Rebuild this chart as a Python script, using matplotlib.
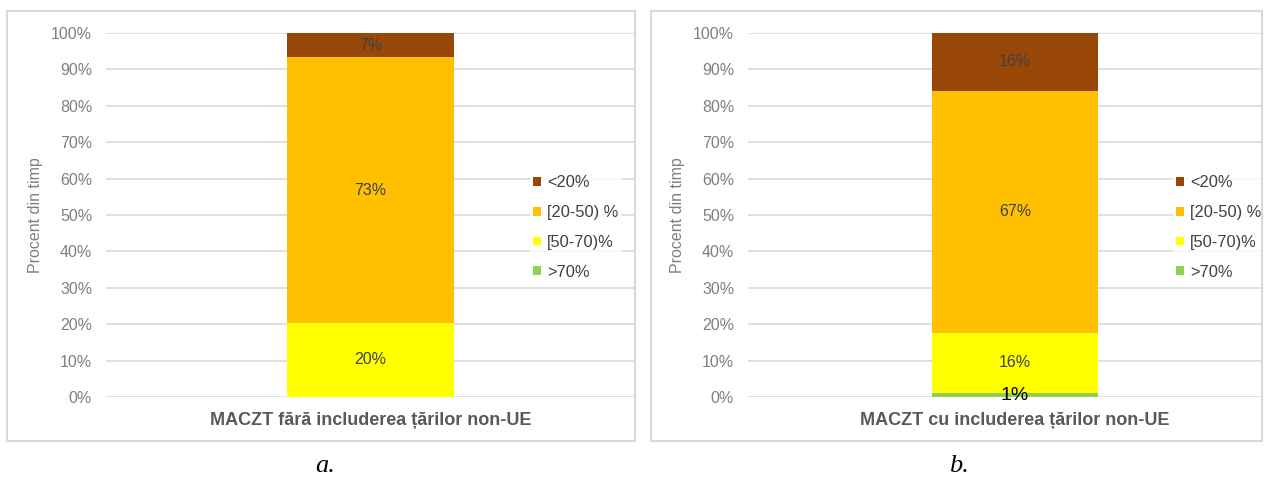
import matplotlib
matplotlib.use("Agg")
import matplotlib.pyplot as plt
from matplotlib.patches import Patch, Rectangle

plt.rcParams["font.family"] = ["Liberation Sans", "DejaVu Sans"]

# stacked shares (percent of time), bottom -> top
series = [">70%", "[50-70)%", "[20-50) %", "<20%"]
series_colors = ["#92D050", "#FFFF00", "#FFC000", "#994708"]
categories = ["MACZT fără includerea țărilor non-UE", "MACZT cu includerea țărilor non-UE"]
share_a = [0.0, 20.4, 72.9, 6.7]
share_b = [1.2, 16.4, 66.6, 15.8]
panel_letters = ["a.", "b."]
yticks = list(range(0, 101, 10))

W, H = 1268, 479
GRID = "#D9D9D9"
TICK_GREY = "#7F7F7F"
TEXT_DARK = "#404040"

# pixel layout of each panel: axes left/right, border, legend, x limits
panels = [
    dict(ax_left=106, ax_right=635, border=(7, 11, 635, 441),
         xlim=(-1.0, 1.0), legend_x=530, letter_x=325),
    dict(ax_left=748, ax_right=1262, border=(651, 11, 1262, 441),
         xlim=(-1.009, 0.934), legend_x=1173, letter_x=959),
]
AX_TOP, AX_BOTTOM = 33, 397
BAR_WIDTH = 0.628


def fx(px):
    return px / W


def fy(py):
    return 1 - py / H


def draw_panel(fig, layout, category, shares, letter):
    ax = fig.add_axes([fx(layout["ax_left"]), fy(AX_BOTTOM),
                       fx(layout["ax_right"] - layout["ax_left"]),
                       (AX_BOTTOM - AX_TOP) / H])
    bottom = 0.0
    for name, color, value in zip(series, series_colors, shares):
        ax.bar([0], [value], bottom=bottom, width=BAR_WIDTH, color=color,
               edgecolor="none", zorder=3, label=name)
        if value > 0:
            mid = bottom + value / 2
            if value < 5:
                ax.text(0, mid - 0.3, f"{value:.0f}%", ha="center", va="center",
                        fontsize=14, color="black", zorder=5)
            else:
                ax.text(0, mid, f"{value:.0f}%", ha="center", va="center",
                        fontsize=11.5, color=TEXT_DARK, zorder=5)
        bottom += value

    ax.set_xlim(*layout["xlim"])
    ax.set_ylim(0, 100)
    ax.set_yticks(yticks)
    ax.set_yticklabels([f"{t}%" for t in yticks])
    ax.set_xticks([0])
    ax.set_xticklabels([category], fontweight="bold", fontsize=13, color="#595959")
    ax.tick_params(axis="y", length=0, pad=10, labelsize=11.5, labelcolor=TICK_GREY)
    ax.tick_params(axis="x", length=0, pad=11)
    ax.grid(axis="y", color=GRID, linewidth=1.2, zorder=0)
    ax.set_axisbelow(True)
    for spine in ax.spines.values():
        spine.set_visible(False)
    ax.set_ylabel("Procent din timp", fontsize=11.5, color=TICK_GREY, labelpad=6)

    handles = [Patch(facecolor=c, edgecolor="none", label=s)
               for s, c in zip(series, series_colors)][::-1]
    leg = ax.legend(handles=handles, loc="upper left",
                    bbox_to_anchor=(fx(layout["legend_x"]), fy(172)),
                    bbox_transform=fig.transFigure, frameon=True,
                    fontsize=11.8, handlelength=0.45, handleheight=0.45,
                    handletextpad=0.4, labelspacing=0.9, borderpad=0.2,
                    borderaxespad=0)
    leg.get_frame().set_facecolor("white")
    leg.get_frame().set_edgecolor("none")
    for t in leg.get_texts():
        t.set_color(TEXT_DARK)

    x0, y0, x1, y1 = layout["border"]
    fig.patches.append(Rectangle((fx(x0), fy(y1)), fx(x1 - x0), (y1 - y0) / H,
                                 transform=fig.transFigure, fill=False,
                                 edgecolor=GRID, linewidth=1.5))
    fig.text(fx(layout["letter_x"]), fy(466), letter, ha="center", va="center",
             fontsize=19, fontstyle="italic", family="Liberation Serif")


fig = plt.figure(figsize=(W / 100, H / 100), dpi=100)
for layout, category, shares, letter in zip(panels, categories, [share_a, share_b], panel_letters):
    draw_panel(fig, layout, category, shares, letter)

fig.savefig("out.png", dpi=100)
